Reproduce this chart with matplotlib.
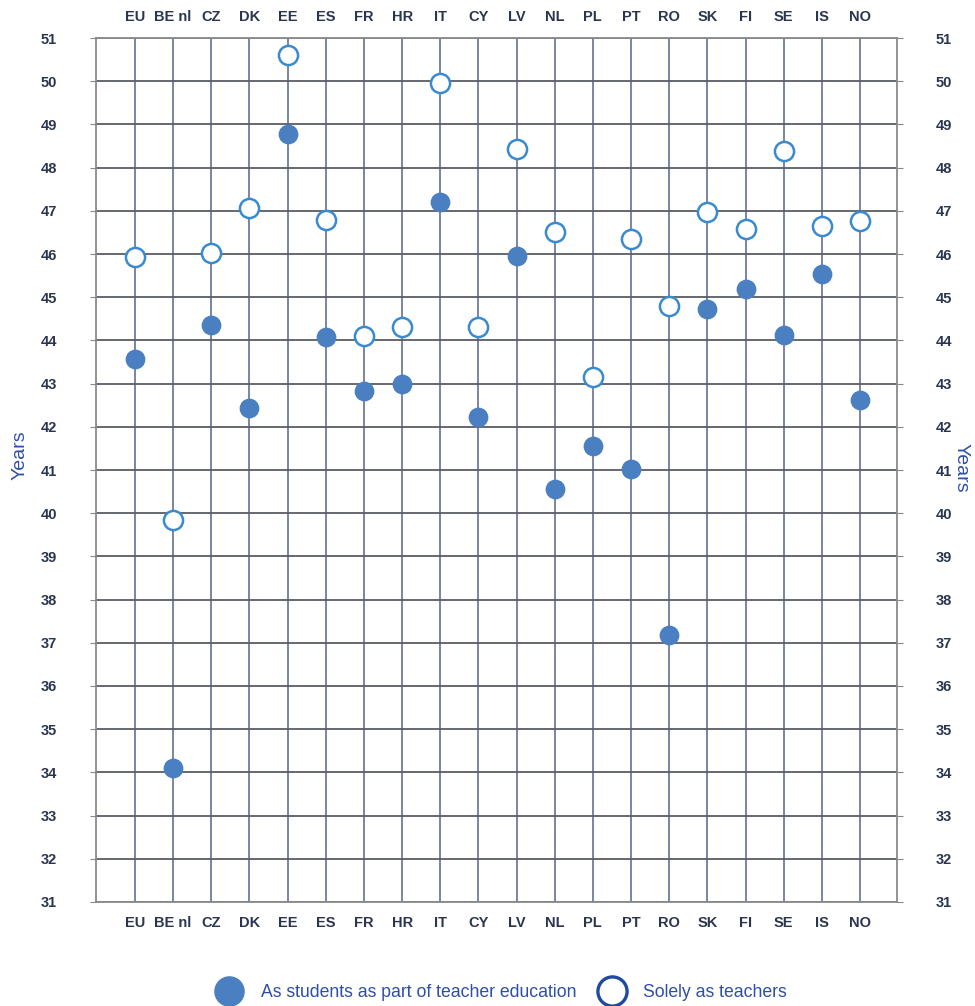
import matplotlib
matplotlib.use("Agg")
import matplotlib.pyplot as plt
from matplotlib.lines import Line2D

# Datos
countries = ["EU", "BE nl", "CZ", "DK", "EE", "ES", "FR", "HR", "IT", "CY",
             "LV", "NL", "PL", "PT", "RO", "SK", "FI", "SE", "IS", "NO"]
as_students = [43.57, 34.1, 44.36, 42.44, 48.78, 44.08, 42.82, 42.99, 47.2, 42.23,
               45.95, 40.56, 41.55, 41.02, 37.18, 44.73, 45.2, 44.12, 45.54, 42.62]
solely_teachers = [45.92, 39.84, 46.02, 47.06, 50.6, 46.78, 44.1, 44.3, 49.96, 44.32,
                   48.42, 46.5, 43.15, 46.34, 44.8, 46.97, 46.57, 48.38, 46.65, 46.76]
y_ticks = list(range(31, 52))

fill_col = "#4a7fc1"
open_col = "#3a8ad0"
label_col = "#2b3550"
years_col = "#2e4fa8"

plt.rcParams['font.family'] = ['Liberation Sans Narrow', 'Liberation Sans', 'DejaVu Sans']

fig = plt.figure(figsize=(9.75, 10.06), dpi=100)
ax = fig.add_axes([0.0985, 0.1034, 0.8215, 0.8588])

x = list(range(len(countries)))

# Lineas de la rejilla
for xi in x:
    ax.axvline(xi, color="#6f7ca0", lw=1.3, zorder=1)
for yv in y_ticks:
    ax.axhline(yv, color="#5a5d66", lw=1.3, zorder=1)

ax.scatter(x, as_students, s=175, color=fill_col, edgecolors=fill_col, zorder=3)
ax.scatter(x, solely_teachers, s=190, facecolors="white", edgecolors=open_col,
           linewidths=1.8, zorder=3)

ax.set_xlim(-1.02, 19.97)
ax.set_ylim(31, 51)

ax.set_xticks(x)
ax.set_xticklabels(countries)
ax.set_yticks(y_ticks)
ax.tick_params(axis="x", which="both", length=0, pad=10, labelsize=10.5,
               labelcolor=label_col, top=True, labeltop=True)
ax.tick_params(axis="y", which="both", length=4, pad=24, labelsize=10.5,
               labelcolor=label_col, right=True, labelright=True, color="#888888")
for t in ax.yaxis.get_major_ticks() + ax.xaxis.get_major_ticks():
    t.label1.set_fontweight("bold")
    t.label2.set_fontweight("bold")

for sp in ax.spines.values():
    sp.set_color("#8a8a8a")
    sp.set_linewidth(1.3)

fig.text(0.021, 0.548, "Years", rotation=90, ha="center", va="center",
         color=years_col, fontsize=14)
fig.text(0.986, 0.535, "Years", rotation=270, ha="center", va="center",
         color=years_col, fontsize=14)

# Leyenda
handles = [
    Line2D([], [], marker="o", ls="", markersize=21, markerfacecolor=fill_col,
           markeredgecolor=fill_col),
    Line2D([], [], marker="o", ls="", markersize=21, markerfacecolor="white",
           markeredgecolor="#1f4aa0", markeredgewidth=2.4),
]
leg = fig.legend(handles, ["As students as part of teacher education", "Solely as teachers"],
                 loc="lower center", bbox_to_anchor=(0.512, -0.011), ncol=2, frameon=False,
                 fontsize=12.7, handletextpad=0.8, columnspacing=1.0)
for t in leg.get_texts():
    t.set_color(years_col)

fig.savefig("out.png", dpi=100)
